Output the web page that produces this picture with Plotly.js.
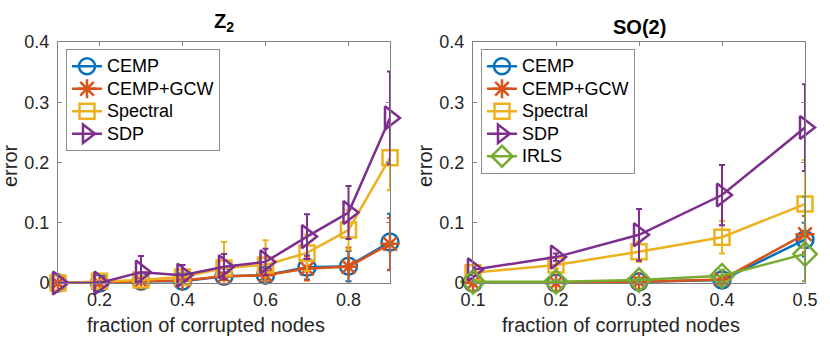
<!DOCTYPE html>
<html>
<head>
<meta charset="utf-8">
<script src="https://cdn.plot.ly/plotly-3.0.1.min.js"></script>
<style>
  html, body { margin: 0; padding: 0; background: #fff; }
  #plot { width: 830px; height: 346px; }
</style>
</head>
<body>
<div id="plot"></div>
<script>
// Left panel (Z_2)
var xLeft = [0.1, 0.2, 0.3, 0.4, 0.5, 0.6, 0.7, 0.8, 0.9];
var leftCemp = [0, 0, 0.003, 0.003, 0.011, 0.013, 0.026, 0.028, 0.068];
var leftCempErr = [0, 0.001, 0.003, 0.003, 0.006, 0.007, 0.02, 0.025, 0.047];
var leftGcw = [0, 0, 0.003, 0.004, 0.011, 0.013, 0.024, 0.027, 0.065];
var leftGcwErr = [0, 0.001, 0.003, 0.004, 0.006, 0.01, 0.02, 0.032, 0.043];
var leftSpec = [0, 0.003, 0.005, 0.01, 0.025, 0.03, 0.05, 0.088, 0.208];
var leftSpecErr = [0, 0.002, 0.006, 0.008, 0.043, 0.041, 0.03, 0.033, 0.054];
var leftSdp = [0, 0, 0.018, 0.013, 0.027, 0.035, 0.077, 0.117, 0.274];
var leftSdpErr = [0, 0.002, 0.027, 0.017, 0.021, 0.022, 0.037, 0.044, 0.077];

// Right panel (SO(2))
var xRight = [0.1, 0.2, 0.3, 0.4, 0.5];
var rightCemp = [0, 0, 0.002, 0.005, 0.072];
var rightCempErr = [0.001, 0.001, 0.002, 0.004, 0.028];
var rightGcw = [0, 0, 0.002, 0.006, 0.081];
var rightGcwErr = [0.001, 0.001, 0.002, 0.005, 0.03];
var rightSpec = [0.017, 0.03, 0.052, 0.076, 0.131];
var rightSpecErr = [0.004, 0.006, 0.017, 0.027, 0.073];
var rightSdp = [0.022, 0.043, 0.08, 0.146, 0.258];
var rightSdpErr = [0.004, 0.006, 0.043, 0.05, 0.072];
var rightIrls = [0.002, 0.002, 0.005, 0.012, 0.048];
var rightIrlsErrPlus = [0.003, 0.003, 0.004, 0.01, 0.095];
var rightIrlsErrMinus = [0.002, 0.002, 0.004, 0.01, 0.045];

var yTicks = [0, 0.1, 0.2, 0.3, 0.4];
var yTickText = ['0', '0.1', '0.2', '0.3', '0.4'];
var xTicksLeft = [0.2, 0.4, 0.6, 0.8];
var xTicksRight = [0.1, 0.2, 0.3, 0.4, 0.5];

// MATLAB default colours
var blue = '#0072BD', orange = '#D95319', yellow = '#EDB120', purple = '#7E2F8E', green = '#77AC30';
var FONT = 'Liberation Sans, Arial, Helvetica, sans-serif';

// pixel -> paper helpers
var W = 830, H = 346;
function px(x) { return x / W; }
function py(y) { return 1 - y / H; }

// legend rows are tight in the reference: small legend font for row height, bigger span for the text
function legendName(name) {
    return '<span style="font-size:18px">' + name + '</span>';
}

function series(name, x, y, errPlus, errMinus, color, symbol, size, xa, ya, legend) {
    return {
        name: legendName(name), x: x, y: y, type: 'scatter', mode: 'lines+markers',
        xaxis: xa, yaxis: ya, legend: legend, cliponaxis: false,
        line: { color: color, width: 2.5 },
        marker: { symbol: symbol, size: size, color: color, line: { color: color, width: 2.5 } },
        error_y: { type: 'data', symmetric: false, array: errPlus, arrayminus: errMinus,
                   color: color, thickness: 2, width: 3 }
    };
}

var traces = [
    series('CEMP', xLeft, leftCemp, leftCempErr, leftCempErr, blue, 'circle-open', 17, 'x', 'y', 'legend'),
    series('CEMP+GCW', xLeft, leftGcw, leftGcwErr, leftGcwErr, orange, 'asterisk-open', 16, 'x', 'y', 'legend'),
    series('Spectral', xLeft, leftSpec, leftSpecErr, leftSpecErr, yellow, 'square-open', 15, 'x', 'y', 'legend'),
    series('SDP', xLeft, leftSdp, leftSdpErr, leftSdpErr, purple, 'triangle-right-open', 20, 'x', 'y', 'legend'),
    series('CEMP', xRight, rightCemp, rightCempErr, rightCempErr, blue, 'circle-open', 17, 'x2', 'y2', 'legend2'),
    series('CEMP+GCW', xRight, rightGcw, rightGcwErr, rightGcwErr, orange, 'asterisk-open', 16, 'x2', 'y2', 'legend2'),
    series('Spectral', xRight, rightSpec, rightSpecErr, rightSpecErr, yellow, 'square-open', 15, 'x2', 'y2', 'legend2'),
    series('SDP', xRight, rightSdp, rightSdpErr, rightSdpErr, purple, 'triangle-right-open', 20, 'x2', 'y2', 'legend2'),
    series('IRLS', xRight, rightIrls, rightIrlsErrPlus, rightIrlsErrMinus, green, 'diamond-open', 18, 'x2', 'y2', 'legend2')
];

function xAxis(domain, range, ticks, anchor) {
    return {
        domain: domain, range: range, anchor: anchor,
        tickvals: ticks, ticktext: ticks.map(String),
        ticks: 'inside', ticklen: 4, tickcolor: '#808080',
        showline: true, linecolor: '#808080', linewidth: 1, mirror: 'allticks',
        showgrid: false, zeroline: false,
        tickfont: { family: FONT, size: 18, color: '#262626' }
    };
}
function yAxis(domain, anchor) {
    return {
        domain: domain, range: [0, 0.4], anchor: anchor,
        tickvals: yTicks, ticktext: yTickText,
        ticks: 'inside', ticklen: 4, tickcolor: '#808080', ticklabelstandoff: 4,
        showline: true, linecolor: '#808080', linewidth: 1, mirror: 'allticks',
        showgrid: false, zeroline: false,
        tickfont: { family: FONT, size: 18, color: '#262626' }
    };
}

var yDom = [py(283), py(42)];
var legendStyle = {
    xanchor: 'left', yanchor: 'top', bgcolor: '#ffffff',
    bordercolor: '#8c8c8c', borderwidth: 1,
    font: { family: FONT, size: 15, color: '#000' },
    tracegroupgap: 0, itemwidth: 30
};

var layout = {
    width: W, height: H,
    margin: { l: 0, r: 0, t: 0, b: 0 },
    paper_bgcolor: '#fff', plot_bgcolor: '#fff',
    showlegend: true,
    xaxis: xAxis([px(58), px(390)], [0.1, 0.9], xTicksLeft, 'y'),
    yaxis: yAxis(yDom, 'x'),
    xaxis2: xAxis([px(473), px(805)], [0.1, 0.5], xTicksRight, 'y2'),
    yaxis2: yAxis(yDom, 'x2'),
    legend: Object.assign({ x: px(66), y: py(49) }, legendStyle),
    legend2: Object.assign({ x: px(481), y: py(49) }, legendStyle),
    annotations: [
        { text: '<b>Z<sub>2</sub></b>', x: px(224), y: py(22), xref: 'paper', yref: 'paper',
          showarrow: false, xanchor: 'center', yanchor: 'middle', font: { family: FONT, size: 20, color: '#000' } },
        { text: '<b>SO(2)</b>', x: px(639), y: py(27), xref: 'paper', yref: 'paper',
          showarrow: false, xanchor: 'center', yanchor: 'middle', font: { family: FONT, size: 20, color: '#000' } },
        { text: 'fraction of corrupted nodes', x: px(206), y: py(325), xref: 'paper', yref: 'paper',
          showarrow: false, xanchor: 'center', yanchor: 'middle', font: { family: FONT, size: 20, color: '#262626' } },
        { text: 'fraction of corrupted nodes', x: px(621), y: py(325), xref: 'paper', yref: 'paper',
          showarrow: false, xanchor: 'center', yanchor: 'middle', font: { family: FONT, size: 20, color: '#262626' } },
        { text: 'error', x: px(10), y: py(166), xref: 'paper', yref: 'paper', textangle: -90,
          showarrow: false, xanchor: 'center', yanchor: 'middle', font: { family: FONT, size: 20, color: '#262626' } },
        { text: 'error', x: px(425), y: py(166), xref: 'paper', yref: 'paper', textangle: -90,
          showarrow: false, xanchor: 'center', yanchor: 'middle', font: { family: FONT, size: 20, color: '#262626' } }
    ]
};

Plotly.newPlot('plot', traces, layout, { staticPlot: true });
</script>
</body>
</html>
